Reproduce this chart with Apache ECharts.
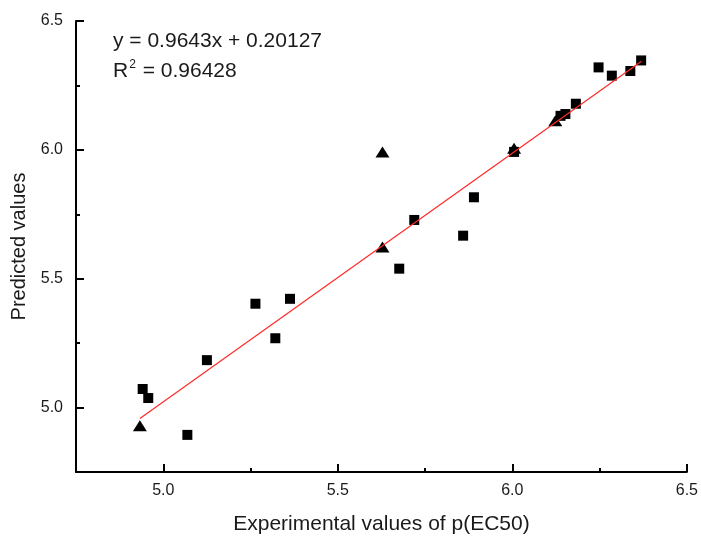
<!DOCTYPE html>
<html>
<head>
<meta charset="utf-8">
<script src="https://cdn.jsdelivr.net/npm/echarts@6/dist/echarts.min.js"></script>
<style>
html,body{margin:0;padding:0;background:#fff;}
#chart{width:701px;height:540px;}
</style>
</head>
<body>
<div id="chart"></div>
<script>
// Training set (squares)
const squareX = [4.941, 4.957, 5.069, 5.125, 5.264, 5.321, 5.363, 5.676, 5.719, 5.859, 5.890, 6.005, 6.138, 6.152, 6.182, 6.247, 6.285, 6.338, 6.369];
const squareY = [5.072, 5.037, 4.894, 5.184, 5.403, 5.269, 5.422, 5.539, 5.728, 5.667, 5.816, 5.992, 6.132, 6.139, 6.179, 6.320, 6.288, 6.306, 6.347];
// Test set (triangles)
const triX = [4.933, 5.628, 5.628, 6.005, 6.123];
const triY = [4.929, 5.992, 5.623, 6.006, 6.113];
// Fitted line endpoints
const fitX = [4.933, 6.370];
const fitY = [4.958, 6.344];
// Ticks
const majorTicks = [5.0, 5.5, 6.0, 6.5];
const minorTicks = [5.25, 5.75, 6.25];
const eqText = 'y = 0.9643x + 0.20127';
const r2Text = '0.96428';

const FONT = '"Liberation Sans", Arial, sans-serif';
const TXT = '#1a1a1a';
const zip = (a, b) => a.map((v, i) => [v, b[i]]);

function majorAxis(extra) {
  return Object.assign({
    type: 'value', min: 4.75, max: 6.5, interval: 0.25, gridIndex: 0,
    axisLine: { show: true, onZero: false, lineStyle: { color: '#000', width: 2 } },
    axisTick: { show: true, inside: true, length: 8, lineStyle: { color: '#000', width: 2 }, customValues: majorTicks },
    splitLine: { show: false }
  }, extra);
}
function minorAxis(extra) {
  return Object.assign({
    type: 'value', min: 4.75, max: 6.5, interval: 0.25, gridIndex: 0,
    axisLine: { show: false, onZero: false },
    axisTick: { show: true, inside: true, length: 4, lineStyle: { color: '#000', width: 2 }, customValues: minorTicks },
    axisLabel: { show: false },
    splitLine: { show: false }
  }, extra);
}

const chart = echarts.init(document.getElementById('chart'), null, { renderer: 'canvas' });
chart.setOption({
  backgroundColor: '#fff',
  animation: false,
  grid: { left: 76, top: 21, right: 13, bottom: 63, containLabel: false },
  xAxis: [
    majorAxis({ position: 'bottom', name: 'Experimental values of p(EC50)', nameLocation: 'middle', nameGap: 42,
      nameTextStyle: { color: TXT, fontSize: 21, fontFamily: FONT },
      axisLabel: { show: true, customValues: majorTicks, formatter: v => v.toFixed(1), color: TXT, fontSize: 16, fontFamily: FONT, margin: 11 } }),
    minorAxis({ position: 'bottom' })
  ],
  yAxis: [
    majorAxis({ position: 'left', name: 'Predicted values', nameLocation: 'middle', nameGap: 46,
      nameTextStyle: { color: TXT, fontSize: 20, fontFamily: FONT },
      axisLabel: { show: true, customValues: majorTicks, formatter: v => v.toFixed(1), color: TXT, fontSize: 16, fontFamily: FONT, margin: 13 } }),
    minorAxis({ position: 'left' })
  ],
  series: [
    {
      type: 'scatter', xAxisIndex: 0, yAxisIndex: 0, symbol: 'rect', symbolSize: 10,
      itemStyle: { color: '#000', opacity: 1 }, data: zip(squareX, squareY), z: 2
    },
    {
      type: 'scatter', xAxisIndex: 0, yAxisIndex: 0, symbol: 'triangle', symbolSize: [14, 11],
      itemStyle: { color: '#000', opacity: 1 }, data: zip(triX, triY), z: 2
    },
    {
      type: 'line', xAxisIndex: 0, yAxisIndex: 0, symbol: 'none', data: zip(fitX, fitY),
      lineStyle: { color: '#ff2a2a', width: 1.2 }, z: 3
    }
  ],
  graphic: [
    { type: 'text', left: 113, top: 31, style: { text: eqText, fill: TXT, font: '21px ' + FONT } },
    { type: 'text', left: 113, top: 59, style: {
        text: '{n|R}{s|2}{n| = ' + r2Text + '}',
        rich: {
          n: { fontSize: 21, fontFamily: FONT, fill: TXT, color: TXT, lineHeight: 24 },
          s: { fontSize: 12, fontFamily: FONT, fill: TXT, color: TXT, verticalAlign: 'top', lineHeight: 24, padding: [0, 1, 10, 1] }
        }
      } }
  ]
});
</script>
</body>
</html>
